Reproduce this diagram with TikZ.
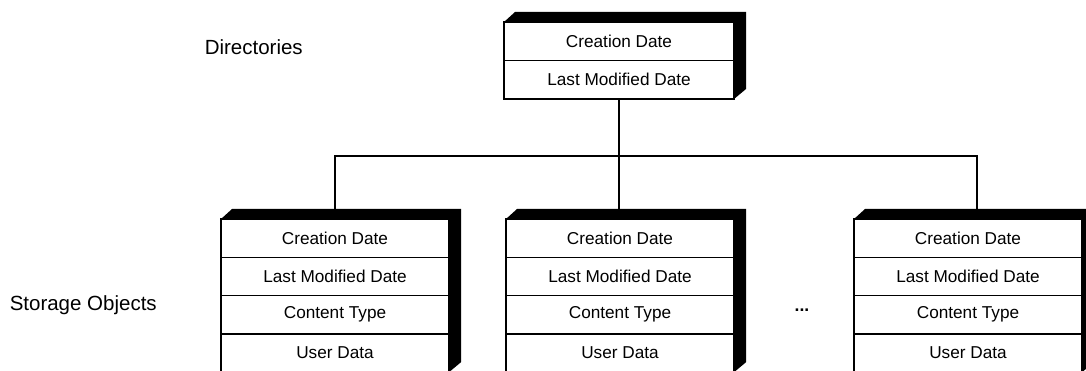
\documentclass[tikz,border=0pt]{standalone}
\usepackage{fontspec}
\setmainfont{Liberation Sans}
\begin{document}
\begin{tikzpicture}[x=1pt,y=-1pt,
  line width=1.5pt,
  txt/.style={font=\fontsize{17.2}{20}\selectfont},
  cell/.style={draw, fill=white, txt, minimum width=228pt, minimum height=38.3pt,
    inner sep=0pt, outer sep=0pt, anchor=north west},
  tcell/.style={cell, minimum width=230pt, minimum height=38.5pt},
  lbl/.style={font=\fontsize{20.5}{24}\selectfont, inner sep=0pt}]
\useasboundingbox (0,0) rectangle (1086,371);
\newcommand\boxdepth[2]{% first row, last row
  \fill[black] (#1.north west) -- ++(11,-10) -- ([shift={(12,-10)}]#1.north east)
    -- ([shift={(12,-10)}]#2.south east) -- (#2.south east) -- (#1.north east) -- cycle;}
\newcommand\sobox[2]{% name, left x
  \node[cell] (#1a) at (#2,219) {Creation Date};
  \node[cell] (#1b) at (#1a.south west) {Last Modified Date};
  \node[cell] (#1c) at (#1b.south west) {Content Type};
  \node[cell] (#1d) at (#1c.south west) {User Data};
  \boxdepth{#1a}{#1d}}
% top directory box
\node[tcell] (Ta) at (504,22) {Creation Date};
\node[tcell] (Tb) at (Ta.south west) {Last Modified Date};
\boxdepth{Ta}{Tb}
% storage objects
\sobox{L}{221}
\sobox{M}{506}
\sobox{R}{854}
% labels
\node[lbl, anchor=west] (dir) at (204,47) {Directories};
\node[lbl, anchor=west] (so) at (9,305) {Storage Objects};
\node[txt, inner sep=0pt, font=\bfseries\fontsize{17.5}{20}\selectfont] (dots) at (802,310) {...};
% connectors
\coordinate (bus) at (0,156);
\coordinate (rdrop) at (977,0);
\draw (Tb.south) -- (Tb.south |- bus) -- (Tb.south |- Ma.north);
\draw (La.north) -- (La.north |- bus) -- (rdrop |- bus) -- (rdrop |- Ra.north);
\end{tikzpicture}
\end{document}
